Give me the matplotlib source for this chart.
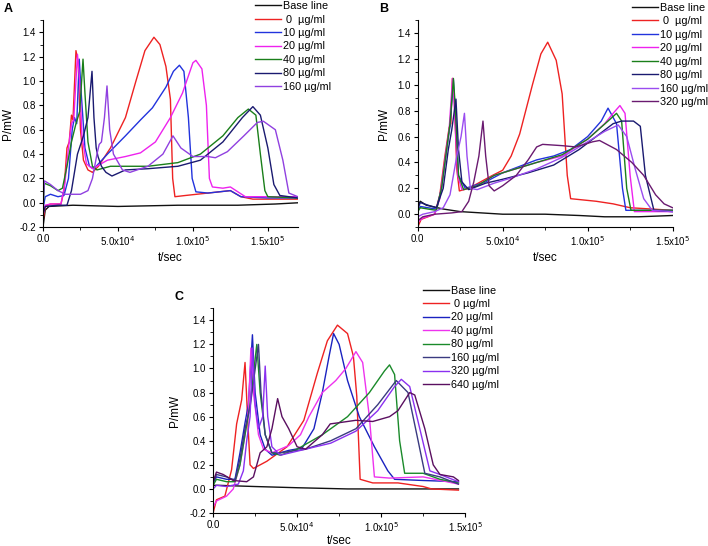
import numpy as np
import matplotlib
matplotlib.use("Agg")
import matplotlib.pyplot as plt
from matplotlib.ticker import MultipleLocator, FuncFormatter

plt.rcParams['font.family'] = ['Liberation Sans', 'DejaVu Sans']

# time in units of 1e4 s, power in mW
A_base = [(0, -0.2), (0.15, -0.06), (0.4, -0.03), (2, -0.02), (5, -0.03), (9, -0.02), (13, -0.02), (15.5, -0.01), (17, 0.0)]
A_0 = [(0, -0.15), (0.15, -0.03), (0.5, -0.01), (1.2, -0.01), (1.4, 0.1), (1.6, 0.45), (1.75, 0.5), (1.9, 0.72), (2.0, 0.68),
       (2.2, 1.25), (2.35, 1.15), (2.5, 0.6), (2.7, 0.35), (3.0, 0.27), (3.3, 0.25), (3.7, 0.3), (4.5, 0.45), (5.5, 0.7),
       (6.2, 1.0), (6.8, 1.25), (7.4, 1.36), (7.8, 1.3), (8.2, 1.12), (8.5, 0.85), (8.65, 0.2), (8.8, 0.05), (9.5, 0.06),
       (11, 0.08), (12.5, 0.1), (13.2, 0.05), (14, 0.03), (17, 0.03)]
A_10 = [(0, -0.05), (0.15, 0.05), (0.5, 0.07), (1.0, 0.05), (1.4, 0.06), (1.7, 0.2), (1.95, 0.6), (2.1, 0.7), (2.25, 0.65),
        (2.42, 1.18), (2.55, 0.9), (2.8, 0.45), (3.1, 0.3), (3.4, 0.28), (4.3, 0.4), (5.5, 0.55), (6.5, 0.68), (7.3, 0.78),
        (8.2, 0.95), (8.7, 1.08), (9.1, 1.13), (9.4, 1.08), (9.7, 0.7), (9.95, 0.2), (10.2, 0.09), (11, 0.08), (12.5, 0.1),
        (13.2, 0.05), (15, 0.04), (17, 0.04)]
A_20 = [(0, -0.1), (0.15, -0.02), (0.5, -0.01), (1.2, -0.01), (1.45, 0.15), (1.7, 0.45), (1.9, 0.65), (2.05, 0.68),
        (2.3, 1.22), (2.45, 1.0), (2.6, 0.55), (2.9, 0.32), (3.3, 0.28), (4.3, 0.35), (5.5, 0.38), (6.5, 0.41), (7.5, 0.5),
        (8.5, 0.7), (9.3, 0.9), (10.0, 1.15), (10.2, 1.17), (10.6, 1.1), (10.9, 0.8), (11.1, 0.2), (11.3, 0.13),
        (12.0, 0.12), (12.5, 0.13), (13.5, 0.05), (17, 0.05)]
A_40 = [(0, -0.05), (0.1, 0.16), (0.5, 0.14), (1.0, 0.1), (1.3, 0.12), (1.6, 0.3), (1.9, 0.5), (2.2, 0.65), (2.45, 0.75),
        (2.67, 1.18), (2.8, 0.9), (3.0, 0.5), (3.3, 0.3), (3.6, 0.27), (4.5, 0.3), (7, 0.3), (9, 0.33), (10.5, 0.4),
        (12, 0.55), (13, 0.7), (13.7, 0.77), (14.2, 0.72), (14.5, 0.4), (14.8, 0.1), (15.0, 0.05), (17, 0.04)]
A_80 = [(0, -0.1), (0.15, -0.03), (1.0, -0.02), (1.6, -0.02), (1.9, 0.1), (2.3, 0.4), (2.7, 0.55), (3.0, 0.7), (3.27, 1.08),
        (3.4, 0.7), (3.55, 0.45), (3.67, 0.38), (3.9, 0.3), (4.2, 0.25), (4.6, 0.22), (5.5, 0.27), (7, 0.28), (9, 0.3),
        (10.5, 0.35), (12, 0.5), (13.3, 0.7), (14.0, 0.79), (14.5, 0.72), (15.0, 0.45), (15.4, 0.15), (15.8, 0.06), (17, 0.04)]
A_160 = [(0, -0.02), (0.1, 0.18), (0.5, 0.15), (1.0, 0.1), (1.5, 0.07), (2.5, 0.07), (3.0, 0.1), (3.3, 0.2), (3.6, 0.4),
         (3.75, 0.48), (3.9, 0.5), (4.1, 0.7), (4.27, 0.96), (4.45, 0.6), (4.7, 0.4), (5.3, 0.27), (5.8, 0.25), (7, 0.3),
         (8, 0.4), (8.67, 0.55), (9.2, 0.45), (10, 0.38), (11, 0.38), (11.5, 0.37), (12.3, 0.42), (13.4, 0.55), (14.3, 0.66),
         (14.7, 0.67), (15.5, 0.6), (16.0, 0.35), (16.4, 0.08), (17, 0.05)]

B_base = [(0, 0.06), (0.15, 0.1), (0.5, 0.07), (1.5, 0.04), (2.5, 0.02), (5, 0.0), (7.5, 0.0), (9.5, -0.01), (11, -0.02),
          (13, -0.02), (15, -0.01)]
B_0 = [(0, -0.1), (0.2, -0.04), (0.6, -0.02), (1.0, 0.0), (1.3, 0.15), (1.6, 0.45), (1.85, 0.67), (1.95, 0.7), (2.04, 1.05),
       (2.15, 0.9), (2.3, 0.35), (2.45, 0.18), (3.0, 0.2), (3.7, 0.25), (4.4, 0.3), (5.0, 0.34), (5.5, 0.45), (6.0, 0.62),
       (6.75, 1.0), (7.25, 1.24), (7.65, 1.33), (8.15, 1.19), (8.5, 0.93), (8.8, 0.3), (9.0, 0.12), (10.5, 0.1),
       (11.5, 0.08), (12.5, 0.05), (15, 0.03)]
B_10 = [(0, 0.02), (0.15, 0.06), (0.6, 0.05), (1.1, 0.04), (1.4, 0.2), (1.7, 0.5), (1.9, 0.68), (2.1, 1.04), (2.2, 0.8),
        (2.4, 0.3), (2.8, 0.2), (4.0, 0.25), (5.0, 0.32), (6.0, 0.37), (7.0, 0.42), (8.0, 0.45), (9.0, 0.5), (10.0, 0.6),
        (10.8, 0.72), (11.2, 0.82), (11.7, 0.7), (12.05, 0.2), (12.25, 0.03), (15, 0.03)]
B_20 = [(0, -0.06), (0.3, -0.03), (1.0, 0.0), (1.3, 0.12), (1.6, 0.42), (1.85, 0.66), (2.05, 1.05), (2.15, 0.85),
        (2.35, 0.3), (2.6, 0.19), (3.5, 0.22), (4.5, 0.3), (5.5, 0.34), (7, 0.4), (8.5, 0.45), (10, 0.58), (11, 0.7),
        (11.5, 0.78), (11.9, 0.84), (12.2, 0.78), (12.5, 0.3), (12.75, 0.02), (15, 0.02)]
B_40 = [(0, 0.02), (0.15, 0.05), (0.6, 0.04), (1.1, 0.03), (1.4, 0.2), (1.7, 0.5), (1.9, 0.7), (2.1, 1.05), (2.2, 0.85),
        (2.4, 0.3), (2.7, 0.19), (3.5, 0.22), (4.5, 0.3), (5.5, 0.34), (7, 0.4), (8.5, 0.46), (10, 0.58), (11.2, 0.72),
        (11.7, 0.78), (12.0, 0.72), (12.3, 0.2), (12.55, 0.03), (15, 0.03)]
B_80 = [(0, 0.04), (0.15, 0.09), (0.6, 0.07), (1.1, 0.05), (1.5, 0.2), (1.8, 0.5), (2.0, 0.65), (2.25, 0.89), (2.4, 0.5),
        (2.6, 0.25), (3.0, 0.19), (4.0, 0.24), (5.0, 0.27), (6.5, 0.32), (8, 0.38), (9.5, 0.5), (10.5, 0.6), (11.5, 0.7),
        (12.0, 0.72), (12.7, 0.72), (13.1, 0.68), (13.4, 0.3), (13.9, 0.03), (15, 0.02)]
B_160 = [(0, -0.02), (0.3, 0.0), (1.0, 0.02), (1.5, 0.05), (1.9, 0.15), (2.3, 0.45), (2.55, 0.6), (2.75, 0.78), (2.9, 0.45),
         (3.1, 0.2), (3.5, 0.19), (4.5, 0.24), (5.5, 0.28), (7, 0.35), (8.5, 0.44), (10, 0.56), (11, 0.64), (11.8, 0.69),
         (12.3, 0.6), (12.8, 0.35), (13.3, 0.12), (13.8, 0.03), (15, 0.02)]
B_320 = [(0, -0.05), (0.3, -0.02), (1.0, 0.0), (2.0, 0.01), (2.6, 0.02), (3.0, 0.1), (3.3, 0.25), (3.6, 0.45), (3.84, 0.72),
         (4.0, 0.45), (4.2, 0.22), (4.5, 0.18), (5.0, 0.22), (5.8, 0.3), (6.5, 0.42), (7.0, 0.52), (7.35, 0.54), (8.5, 0.53),
         (9.3, 0.52), (10.3, 0.56), (10.7, 0.57), (11.7, 0.5), (12.6, 0.4), (13.3, 0.3), (14.0, 0.15), (14.5, 0.08), (15, 0.05)]

C_base = [(0, 0.03), (0.3, 0.03), (2.5, 0.02), (5, 0.01), (8, 0.0), (10, 0.0), (14.6, 0.0)]
C_0 = [(0, -0.2), (0.2, -0.09), (0.7, -0.06), (1.1, 0.16), (1.4, 0.54), (1.7, 0.74), (1.9, 1.05), (2.05, 0.6), (2.2, 0.2),
       (2.4, 0.17), (3.2, 0.23), (4.4, 0.35), (5.4, 0.57), (6.2, 0.96), (6.8, 1.23), (7.4, 1.36), (8.0, 1.29), (8.35, 1.1),
       (8.55, 0.77), (8.75, 0.08), (9.5, 0.05), (11, 0.05), (12.5, 0.02), (13, 0.0), (14.6, -0.01)]
C_20 = [(0, 0.05), (0.2, 0.1), (0.8, 0.08), (1.3, 0.08), (1.6, 0.3), (1.9, 0.55), (2.1, 0.7), (2.34, 1.28), (2.5, 0.8),
        (2.8, 0.45), (3.1, 0.33), (3.5, 0.28), (4.5, 0.32), (5.3, 0.34), (6.0, 0.5), (6.5, 0.8), (6.9, 1.1), (7.17, 1.29),
        (7.5, 1.2), (8.0, 0.9), (8.7, 0.6), (9.6, 0.35), (10.4, 0.15), (10.8, 0.08), (12.5, 0.07), (14.6, 0.06)]
C_40 = [(0, -0.15), (0.2, -0.1), (0.8, -0.06), (1.2, 0.0), (1.6, 0.2), (1.9, 0.45), (2.1, 0.65), (2.25, 1.17), (2.4, 0.8),
        (2.7, 0.45), (3.0, 0.33), (3.5, 0.3), (4.5, 0.36), (5.2, 0.45), (5.7, 0.6), (6.5, 0.8), (7.3, 0.9), (7.9, 1.0),
        (8.5, 1.14), (8.9, 1.05), (9.3, 0.6), (9.6, 0.1), (10.5, 0.09), (12.5, 0.1), (14.6, 0.04)]
C_80 = [(0, 0.03), (0.2, 0.08), (0.8, 0.06), (1.3, 0.06), (1.6, 0.2), (1.9, 0.45), (2.2, 0.7), (2.6, 1.2), (2.8, 0.8),
        (3.1, 0.45), (3.5, 0.3), (4.0, 0.28), (5.0, 0.33), (6.5, 0.45), (8.0, 0.6), (9.3, 0.8), (10.2, 0.98), (10.5, 1.03),
        (10.8, 0.95), (11.1, 0.4), (11.4, 0.13), (12.5, 0.13), (13.5, 0.08), (14.6, 0.05)]
C_160 = [(0, 0.05), (0.2, 0.12), (0.8, 0.1), (1.3, 0.07), (1.6, 0.25), (1.9, 0.5), (2.2, 0.68), (2.7, 1.2), (2.85, 0.8),
         (3.1, 0.45), (3.5, 0.3), (4.0, 0.3), (5.5, 0.33), (7.0, 0.4), (8.5, 0.5), (9.8, 0.7), (10.9, 0.9), (11.6, 0.8),
         (12.2, 0.4), (12.6, 0.13), (13.5, 0.1), (14.6, 0.04)]
C_320 = [(0, 0.0), (0.2, 0.03), (0.8, 0.02), (1.5, 0.04), (1.8, 0.15), (2.0, 0.4), (2.2, 0.6), (2.35, 1.17), (2.5, 0.7),
         (2.7, 0.5), (2.95, 0.6), (3.1, 1.02), (3.25, 0.6), (3.5, 0.35), (4.0, 0.28), (5.5, 0.33), (7.0, 0.38), (8.5, 0.48),
         (9.8, 0.65), (10.8, 0.85), (11.2, 0.91), (11.7, 0.85), (12.3, 0.5), (12.9, 0.15), (13.5, 0.12), (14.6, 0.06)]
C_640 = [(0, 0.06), (0.2, 0.14), (0.6, 0.12), (1.2, 0.07), (2.0, 0.06), (2.4, 0.1), (2.8, 0.3), (3.2, 0.35), (3.5, 0.5),
         (3.84, 0.75), (4.1, 0.6), (4.5, 0.5), (5.0, 0.35), (5.5, 0.33), (6.5, 0.45), (6.97, 0.54), (7.5, 0.55), (8.5, 0.57),
         (9.5, 0.56), (10.5, 0.6), (11.0, 0.65), (11.7, 0.8), (12.0, 0.78), (12.6, 0.5), (13.1, 0.2), (13.5, 0.12),
         (14.3, 0.1), (14.6, 0.07)]

labels_A = ['Base line', ' 0  \u00b5g/ml', '10 \u00b5g/ml', '20 \u00b5g/ml', '40 \u00b5g/ml', '80 \u00b5g/ml', '160 \u00b5g/ml']
labels_B = ['Base line', ' 0  \u00b5g/ml', '10 \u00b5g/ml', '20 \u00b5g/ml', '40 \u00b5g/ml', '80 \u00b5g/ml', '160 \u00b5g/ml', '320 \u00b5g/ml']
labels_C = ['Base line', ' 0 \u00b5g/ml', '20 \u00b5g/ml', '40 \u00b5g/ml', '80 \u00b5g/ml', '160 \u00b5g/ml', '320 \u00b5g/ml', '640 \u00b5g/ml']

colors_A = ['#111111', '#ee2222', '#2233dd', '#ee22ee', '#1a7f1a', '#1a1a70', '#9040e0']
colors_B = ['#111111', '#ee2222', '#2233dd', '#ee22ee', '#1a7f1a', '#1a1a70', '#9a4cf0', '#6a1a70']
colors_C = ['#111111', '#ee2222', '#1a22c0', '#ee33ee', '#1a8a2a', '#3a3a80', '#8a30f0', '#5a0f60']


def fmt_t(v, pos):
    if abs(v) < 1:
        return '0.0'
    if v < 0:
        return ''
    e = int(np.floor(np.log10(v)))
    return '%.1fx10$^{%d}$' % (v / 10 ** e, e)


def panel(rect, curves, labels, colors, xmax, ymin, letter, leg_xy, ylab_x, xlab_y):
    ax = fig.add_axes(rect)
    for c, lab, col in zip(curves, labels, colors):
        arr = np.array(c)
        ax.plot(arr[:, 0] * 1e4, arr[:, 1], color=col, lw=1.0, label=lab)
    ax.set_xlim(0, xmax)
    ax.set_ylim(ymin, 1.5)
    for s in ['top', 'right']:
        ax.spines[s].set_visible(False)
    ax.spines['left'].set_linewidth(0.8)
    ax.spines['bottom'].set_linewidth(0.8)
    ax.xaxis.set_major_locator(MultipleLocator(5e4))
    ax.xaxis.set_minor_locator(MultipleLocator(2.5e4))
    ax.xaxis.set_major_formatter(FuncFormatter(fmt_t))
    ax.yaxis.set_major_locator(MultipleLocator(0.2))
    ax.yaxis.set_minor_locator(MultipleLocator(0.1))
    ax.yaxis.set_major_formatter(FuncFormatter(lambda v, p: '%.1f' % v))
    ax.tick_params(which='major', direction='out', length=3, width=0.8, labelsize=7, pad=2)
    ax.tick_params(which='minor', direction='out', length=2, width=0.6)
    ax.set_xlabel('t/sec', fontsize=8.5, labelpad=2)
    ax.set_ylabel('P/mW', fontsize=8.5, labelpad=3)
    ax.yaxis.set_label_coords(ylab_x, 0.5)
    ax.xaxis.set_label_coords(0.5, xlab_y)
    fig.text(rect[0] - 0.055, rect[1] + rect[3] + 0.02, letter, fontsize=9, fontweight='bold', va='center')
    ax.legend(loc='upper left', bbox_to_anchor=leg_xy, bbox_transform=fig.transFigure, frameon=False,
              fontsize=7.8, handlelength=2.4, handletextpad=0.2, labelspacing=0.32, borderpad=0, borderaxespad=0)
    return ax


fig = plt.figure(figsize=(7.08, 5.46), dpi=100)

panel([0.0607, 0.584, 0.360, 0.379], [A_base, A_0, A_10, A_20, A_40, A_80, A_160], labels_A, colors_A,
      1.7e5, -0.2, 'A', (0.360, 0.998), -0.114, -0.12)
panel([0.590, 0.584, 0.360, 0.379], [B_base, B_0, B_10, B_20, B_40, B_80, B_160, B_320], labels_B, colors_B,
      1.5e5, -0.1, 'B', (0.892, 0.995), -0.11, -0.12)
panel([0.301, 0.0604, 0.356, 0.375], [C_base, C_0, C_20, C_40, C_80, C_160, C_320, C_640], labels_C, colors_C,
      1.5e5, -0.2, 'C', (0.597, 0.477), -0.127, -0.105)

fig.savefig('out.png', dpi=100)
